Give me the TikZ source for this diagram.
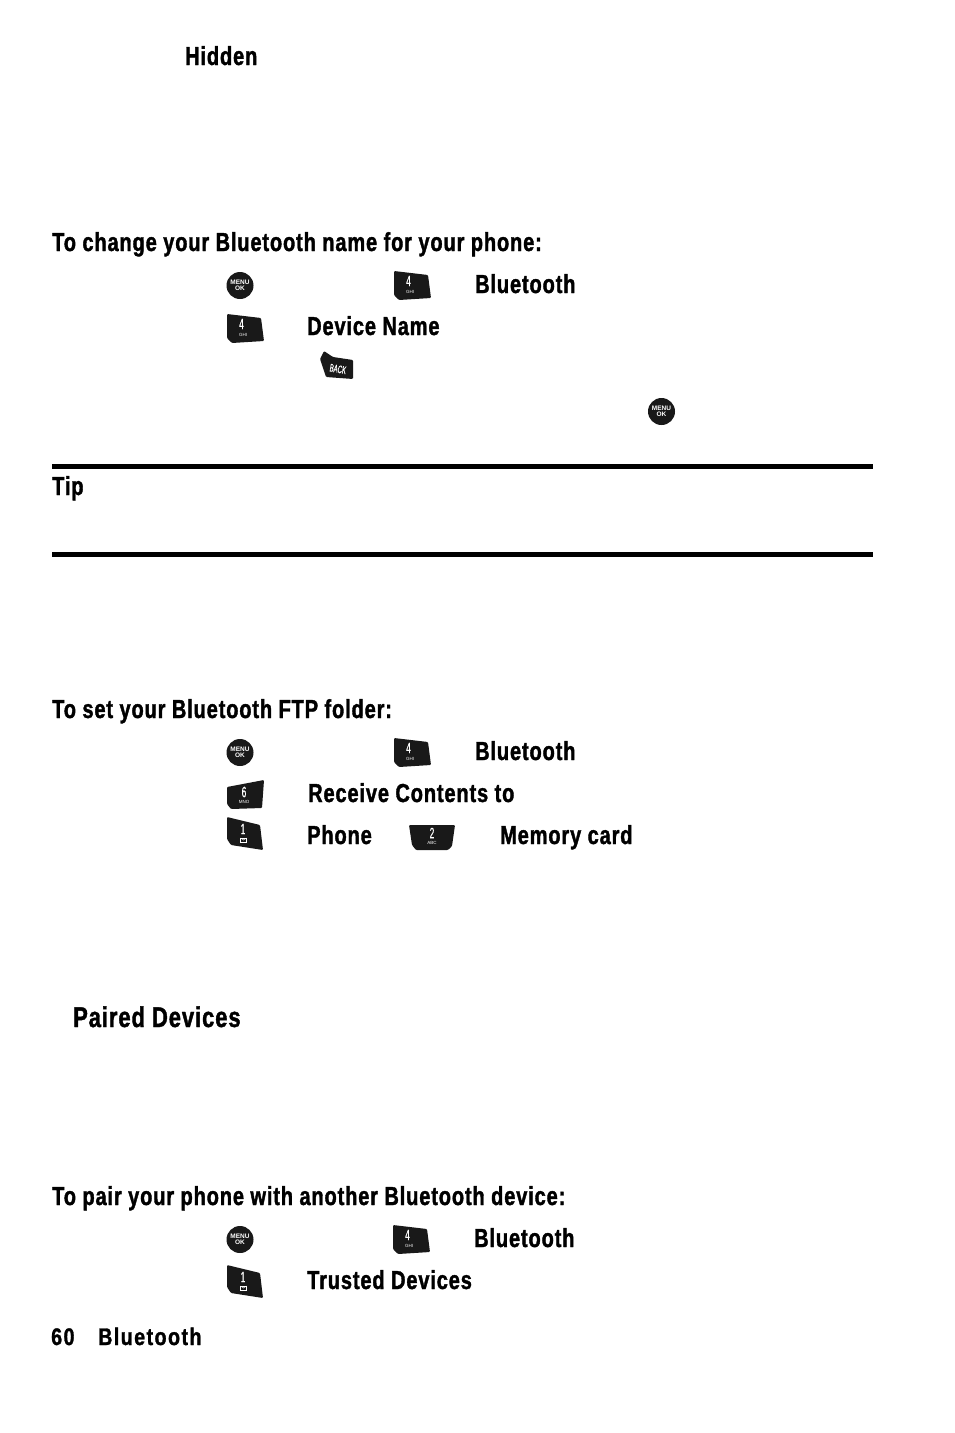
\documentclass[tikz,border=0pt]{standalone}
\usepackage{fontspec}
\setmainfont{Liberation Sans}
\newfontfamily\condfont[FakeStretch=0.77,FakeBold=1.4,LetterSpace=3.3]{Liberation Sans Bold}
\newfontfamily\footfont[FakeStretch=0.82,FakeBold=1.2,LetterSpace=6]{Liberation Sans Bold}
\newfontfamily\numfont[FakeStretch=0.55,FakeBold=0.5]{Liberation Sans}
\tikzset{
	bold/.style={anchor=base west,inner sep=0pt,font=\condfont\fontsize{26}{26}\selectfont},
	boldbig/.style={anchor=base west,inner sep=0pt,font=\condfont\fontsize{28.5}{28.5}\selectfont},
	foot/.style={anchor=base west,inner sep=0pt,font=\footfont\fontsize{24}{24}\selectfont},
	num/.style={white,inner sep=0pt,font=\numfont\fontsize{15}{15}\selectfont},
	tiny/.style={white,inner sep=0pt,font=\fontsize{4.5}{5}\selectfont},
	okfont/.style={white,inner sep=0pt,align=center,font=\bfseries\fontsize{6.5}{6.5}\selectfont},
	keyfill/.style={fill=black!90,rounded corners=1pt}
}
% keys, x y = upper left corner
\newcommand{\menuok}[3]{
	\node[circle,fill=black!90,minimum size=27pt,inner sep=0pt] (#1) at (#2,#3) {};
	\node[okfont] at (#1) {MENU\\[-0.5pt]OK};
}
\newcommand{\slantkey}[5]{
	\begin{scope}[shift={(#2,#3)}]
		\fill[keyfill] (0,0) -- (34,4) -- (37,27) -- (5,29) -- (0,24) -- cycle;
		\node[num] (#1) at (14.5,10) {#4};
		\node[tiny] at (16,21) {#5};
	\end{scope}
}
\newcommand{\onekey}[3]{
	\begin{scope}[shift={(#2,#3)}]
		\fill[keyfill] (0,0) -- (33,8) -- (36,33) -- (4,28) -- (0,22) -- cycle;
		\node[num] (#1) at (16,12) {1};
		\draw[white,line width=0.5pt] (13.5,21) rectangle (19.5,25);
		\draw[white,line width=0.4pt] (13.5,21) -- (16.5,23) -- (19.5,21);
	\end{scope}
}
\begin{document}
\begin{tikzpicture}[x=1pt,y=-1pt]
	\useasboundingbox (0,0) rectangle (954,1433);
	\node[bold] (hidden) at (185,65) {Hidden};
	% first part
	\node[bold] (changename) at (52,251) {To change your Bluetooth name for your phone:};
	\menuok{menua}{240}{285.5}
	\slantkey{foura}{394}{271}{4}{GHI}
	\node[bold] (btoa) at (475,293) {Bluetooth};
	\slantkey{fourb}{227}{314}{4}{GHI}
	\node[bold] (devname) at (307,335) {Device Name};
	\begin{scope}[shift={(320,351)}]
		\fill[keyfill] (4,0) -- (13,6) -- (33,9) -- (33,28) -- (6,26) -- (0,8) -- cycle;
		\node[white,inner sep=0pt,rotate=-10,font=\numfont\fontsize{11}{11}\selectfont] (back) at (18,18) {BACK};
	\end{scope}
	\menuok{menub}{661.5}{411.5}
	% tip
	\coordinate (ruleal) at (52,466);
	\coordinate (rulear) at (873,466);
	\coordinate (rulebl) at (52,554);
	\coordinate (rulebr) at (873,554);
	\draw[line width=5pt] (ruleal) -- (rulear);
	\draw[line width=5pt] (rulebl) -- (rulebr);
	\node[bold] (tip) at (52,495) {Tip};
	% second part
	\node[bold] (setftp) at (52,718) {To set your Bluetooth FTP folder:};
	\menuok{menuc}{240}{752.5}
	\slantkey{fourc}{394}{738}{4}{GHI}
	\node[bold] (btob) at (475,760) {Bluetooth};
	\begin{scope}[shift={(227,780)}]
		\fill[keyfill] (0,7) -- (37,0) -- (35,28) -- (4,29) -- (0,24) -- cycle;
		\node[num] (six) at (17,12) {6};
		\node[tiny] at (17,22) {MNO};
	\end{scope}
	\node[bold] (receive) at (308,802) {Receive Contents to};
	\onekey{onea}{227}{817}
	\node[bold] (phone) at (307,844) {Phone};
	\begin{scope}[shift={(409,825)}]
		\fill[keyfill] (0,0) -- (46,0) -- (43,21) -- (39,25) -- (7,25) -- (3,20) -- cycle;
		\node[num] (two) at (23,8) {2};
		\node[tiny] at (23,18) {ABC};
	\end{scope}
	\node[bold] (memcard) at (500,844) {Memory card};
	% third part
	\node[boldbig] (paired) at (73,1027) {Paired Devices};
	\node[bold] (pair) at (52,1205) {To pair your phone with another Bluetooth device:};
	\menuok{menud}{240}{1239.5}
	\slantkey{fourd}{393}{1225}{4}{GHI}
	\node[bold] (btoc) at (474,1247) {Bluetooth};
	\onekey{oneb}{227}{1265}
	\node[bold] (trusted) at (307,1289) {Trusted Devices};
	% footer
	\node[foot] (pagenum) at (51,1345) {60};
	\node[foot] (chapter) at (98,1345) {Bluetooth};
\end{tikzpicture}
\end{document}
